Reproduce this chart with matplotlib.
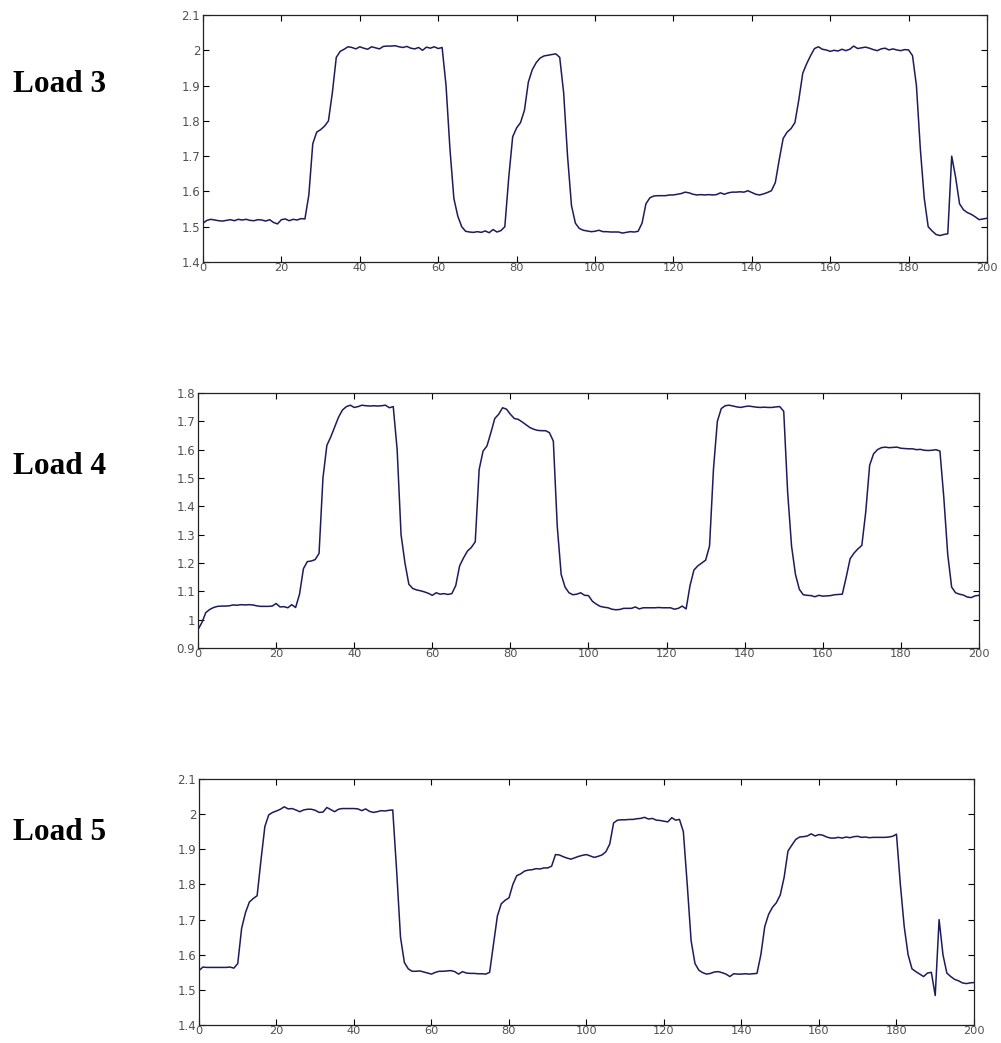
import numpy as np
import matplotlib
matplotlib.use("Agg")
import matplotlib.pyplot as plt

# values, one sample per x step (0..200)
load3 = [
    1.510, 1.518, 1.521, 1.519, 1.517, 1.516, 1.518, 1.520, 1.517, 1.521,
    1.519, 1.521, 1.518, 1.517, 1.520, 1.519, 1.516, 1.520, 1.512, 1.508,
    1.520, 1.522, 1.517, 1.521, 1.519, 1.523, 1.522, 1.590, 1.735, 1.768,
    1.775, 1.785, 1.800, 1.880, 1.980, 1.997, 2.003, 2.010, 2.008, 2.004,
    2.010, 2.006, 2.003, 2.010, 2.007, 2.004, 2.011, 2.012, 2.012, 2.013,
    2.010, 2.008, 2.011, 2.006, 2.004, 2.008, 2.000, 2.009, 2.006, 2.010,
    2.005, 2.008, 1.900, 1.720, 1.580, 1.530, 1.500, 1.487, 1.485, 1.484,
    1.486, 1.484, 1.488, 1.483, 1.492, 1.485, 1.489, 1.500, 1.640, 1.755,
    1.780, 1.795, 1.830, 1.910, 1.945, 1.965, 1.978, 1.984, 1.986, 1.988,
    1.990, 1.980, 1.880, 1.700, 1.560, 1.510, 1.495, 1.490, 1.488, 1.486,
    1.487, 1.490, 1.486, 1.486, 1.485, 1.485, 1.485, 1.482, 1.484, 1.486,
    1.485, 1.487, 1.510, 1.565, 1.582, 1.587, 1.588, 1.588, 1.588, 1.590,
    1.590, 1.592, 1.594, 1.598, 1.596, 1.592, 1.590, 1.591, 1.590, 1.591,
    1.590, 1.591, 1.596, 1.592, 1.596, 1.598, 1.598, 1.599, 1.598, 1.602,
    1.597, 1.592, 1.590, 1.593, 1.597, 1.602, 1.625, 1.690, 1.750, 1.768,
    1.778, 1.795, 1.860, 1.935, 1.962, 1.985, 2.005, 2.010, 2.003, 2.001,
    1.997, 2.000, 1.998, 2.003, 1.999, 2.003, 2.012, 2.005, 2.007, 2.009,
    2.006, 2.002, 1.999, 2.004, 2.006, 2.001, 2.004, 2.001, 1.999, 2.002,
    2.001, 1.985, 1.900, 1.720, 1.580, 1.500, 1.488, 1.478, 1.475, 1.478,
    1.480, 1.700, 1.640, 1.565, 1.548, 1.540, 1.535, 1.528, 1.520, 1.522,
    1.524,
]

load4 = [
    0.965, 0.990, 1.025, 1.036, 1.043, 1.047, 1.048, 1.048, 1.049, 1.052,
    1.051, 1.053, 1.052, 1.053, 1.052, 1.049, 1.047, 1.047, 1.047, 1.048,
    1.057, 1.045, 1.046, 1.042, 1.053, 1.043, 1.090, 1.180, 1.205, 1.207,
    1.212, 1.234, 1.500, 1.615, 1.645, 1.680, 1.715, 1.740, 1.752, 1.757,
    1.749, 1.752, 1.757, 1.755, 1.754, 1.755, 1.754, 1.755, 1.757, 1.748,
    1.752, 1.600, 1.300, 1.200, 1.125, 1.110, 1.105, 1.102, 1.098, 1.093,
    1.086, 1.095, 1.090, 1.092, 1.089, 1.092, 1.120, 1.190, 1.218, 1.242,
    1.255, 1.275, 1.530, 1.595, 1.613, 1.660, 1.710, 1.725, 1.748, 1.743,
    1.725, 1.710, 1.707, 1.698, 1.688, 1.678, 1.672, 1.668, 1.667, 1.667,
    1.660, 1.630, 1.330, 1.160, 1.115, 1.095, 1.088, 1.090, 1.095, 1.086,
    1.085, 1.065, 1.055, 1.047, 1.044, 1.042, 1.037, 1.035, 1.036, 1.040,
    1.040, 1.040, 1.045, 1.038, 1.042, 1.042, 1.042, 1.042, 1.043, 1.042,
    1.042, 1.042, 1.037, 1.040, 1.048, 1.038, 1.120, 1.175, 1.190, 1.200,
    1.210, 1.260, 1.530, 1.700, 1.745, 1.755, 1.757, 1.754, 1.751, 1.749,
    1.752, 1.754, 1.752, 1.750, 1.749, 1.750, 1.749, 1.749, 1.751, 1.752,
    1.735, 1.450, 1.260, 1.160, 1.107, 1.088, 1.086, 1.085, 1.081, 1.086,
    1.083, 1.084, 1.085, 1.088, 1.089, 1.090, 1.150, 1.215, 1.235, 1.250,
    1.262, 1.380, 1.545, 1.585, 1.600, 1.607, 1.609, 1.607, 1.608, 1.609,
    1.605, 1.604, 1.603, 1.603, 1.600, 1.601, 1.598, 1.597, 1.598, 1.600,
    1.595, 1.430, 1.230, 1.115, 1.095, 1.090, 1.087, 1.080, 1.078, 1.084,
    1.086,
]

load5 = [
    1.555, 1.565, 1.564, 1.564, 1.564, 1.564, 1.564, 1.564, 1.565, 1.562,
    1.575, 1.675, 1.720, 1.750, 1.760, 1.768, 1.870, 1.965, 1.998, 2.005,
    2.009, 2.014, 2.021, 2.015, 2.016, 2.012, 2.007, 2.012, 2.014, 2.014,
    2.011, 2.005, 2.006, 2.019, 2.013, 2.007, 2.014, 2.016, 2.016, 2.016,
    2.016, 2.015, 2.010, 2.015, 2.008, 2.005, 2.007, 2.010, 2.009, 2.011,
    2.012, 1.840, 1.650, 1.578, 1.560, 1.553, 1.553, 1.554, 1.551, 1.548,
    1.545, 1.550, 1.553, 1.553, 1.554, 1.555, 1.552, 1.545, 1.552, 1.548,
    1.547, 1.547, 1.546, 1.546, 1.545, 1.550, 1.630, 1.710, 1.745, 1.755,
    1.762, 1.800, 1.825, 1.830, 1.838, 1.841, 1.842, 1.845, 1.844, 1.847,
    1.847, 1.852, 1.885, 1.884, 1.879, 1.875, 1.872, 1.876, 1.880, 1.883,
    1.885, 1.881, 1.877, 1.880, 1.884, 1.893, 1.915, 1.975, 1.983, 1.984,
    1.984, 1.985, 1.985, 1.987, 1.988, 1.991, 1.986, 1.988, 1.983, 1.982,
    1.980, 1.978, 1.990, 1.983, 1.985, 1.950, 1.800, 1.640, 1.575, 1.556,
    1.549, 1.545, 1.547, 1.551, 1.552, 1.549, 1.545, 1.538, 1.546, 1.545,
    1.545, 1.546, 1.545, 1.546, 1.547, 1.600, 1.680, 1.715, 1.735, 1.748,
    1.770, 1.820, 1.895, 1.912, 1.928, 1.935, 1.936, 1.938, 1.944, 1.938,
    1.942, 1.940, 1.935, 1.932, 1.932, 1.934, 1.932, 1.935, 1.933, 1.936,
    1.937, 1.934, 1.935, 1.933, 1.934, 1.934, 1.934, 1.934, 1.935, 1.937,
    1.943, 1.800, 1.680, 1.600, 1.560, 1.552, 1.545, 1.538, 1.548, 1.550,
    1.484, 1.700, 1.600, 1.548, 1.538, 1.530, 1.526, 1.520, 1.518, 1.520,
    1.521,
]

labels = ["Load 3", "Load 4", "Load 5"]
series = [load3, load4, load5]
ylims = [(1.4, 2.1), (0.9, 1.8), (1.4, 2.1)]
yticks = [
    [1.4, 1.5, 1.6, 1.7, 1.8, 1.9, 2.0, 2.1],
    [0.9, 1.0, 1.1, 1.2, 1.3, 1.4, 1.5, 1.6, 1.7, 1.8],
    [1.4, 1.5, 1.6, 1.7, 1.8, 1.9, 2.0, 2.1],
]
ytick_labels = [
    ["1.4", "1.5", "1.6", "1.7", "1.8", "1.9", "2", "2.1"],
    ["0.9", "1", "1.1", "1.2", "1.3", "1.4", "1.5", "1.6", "1.7", "1.8"],
    ["1.4", "1.5", "1.6", "1.7", "1.8", "1.9", "2", "2.1"],
]
xticks = [0, 20, 40, 60, 80, 100, 120, 140, 160, 180, 200]

# axes boxes in figure fraction [left, bottom, width, height]
boxes = [
    [0.2028, 0.7488, 0.7832, 0.2368],
    [0.1978, 0.3787, 0.7802, 0.2445],
    [0.1988, 0.0172, 0.7742, 0.2359],
]
label_y = [84, 466, 832]  # pixel rows of the side labels

fig = plt.figure(figsize=(10.01, 10.43), dpi=100)

for i in range(3):
    ax = fig.add_axes(boxes[i])
    y = np.array(series[i])
    x = np.arange(len(y))
    ax.plot(x, y, color="#1c1c5c", linewidth=1.1)
    ax.set_xlim(0, 200)
    ax.set_ylim(*ylims[i])
    ax.set_xticks(xticks)
    ax.set_yticks(yticks[i])
    ax.set_yticklabels(ytick_labels[i])
    ax.tick_params(direction="in", length=4, width=0.8, top=True, right=True,
                   labelsize=8.5, labelcolor="#505050", pad=2)
    ax.tick_params(axis="x", pad=0.5, labelsize=8.2)
    for s in ax.spines.values():
        s.set_linewidth(0.9)
        s.set_color("#222222")
    fig.text(13 / 1001, 1 - label_y[i] / 1043, labels[i], ha="left", va="center",
             fontsize=22.5, fontweight="bold", family="Liberation Serif")

fig.savefig("out.png", dpi=100)
